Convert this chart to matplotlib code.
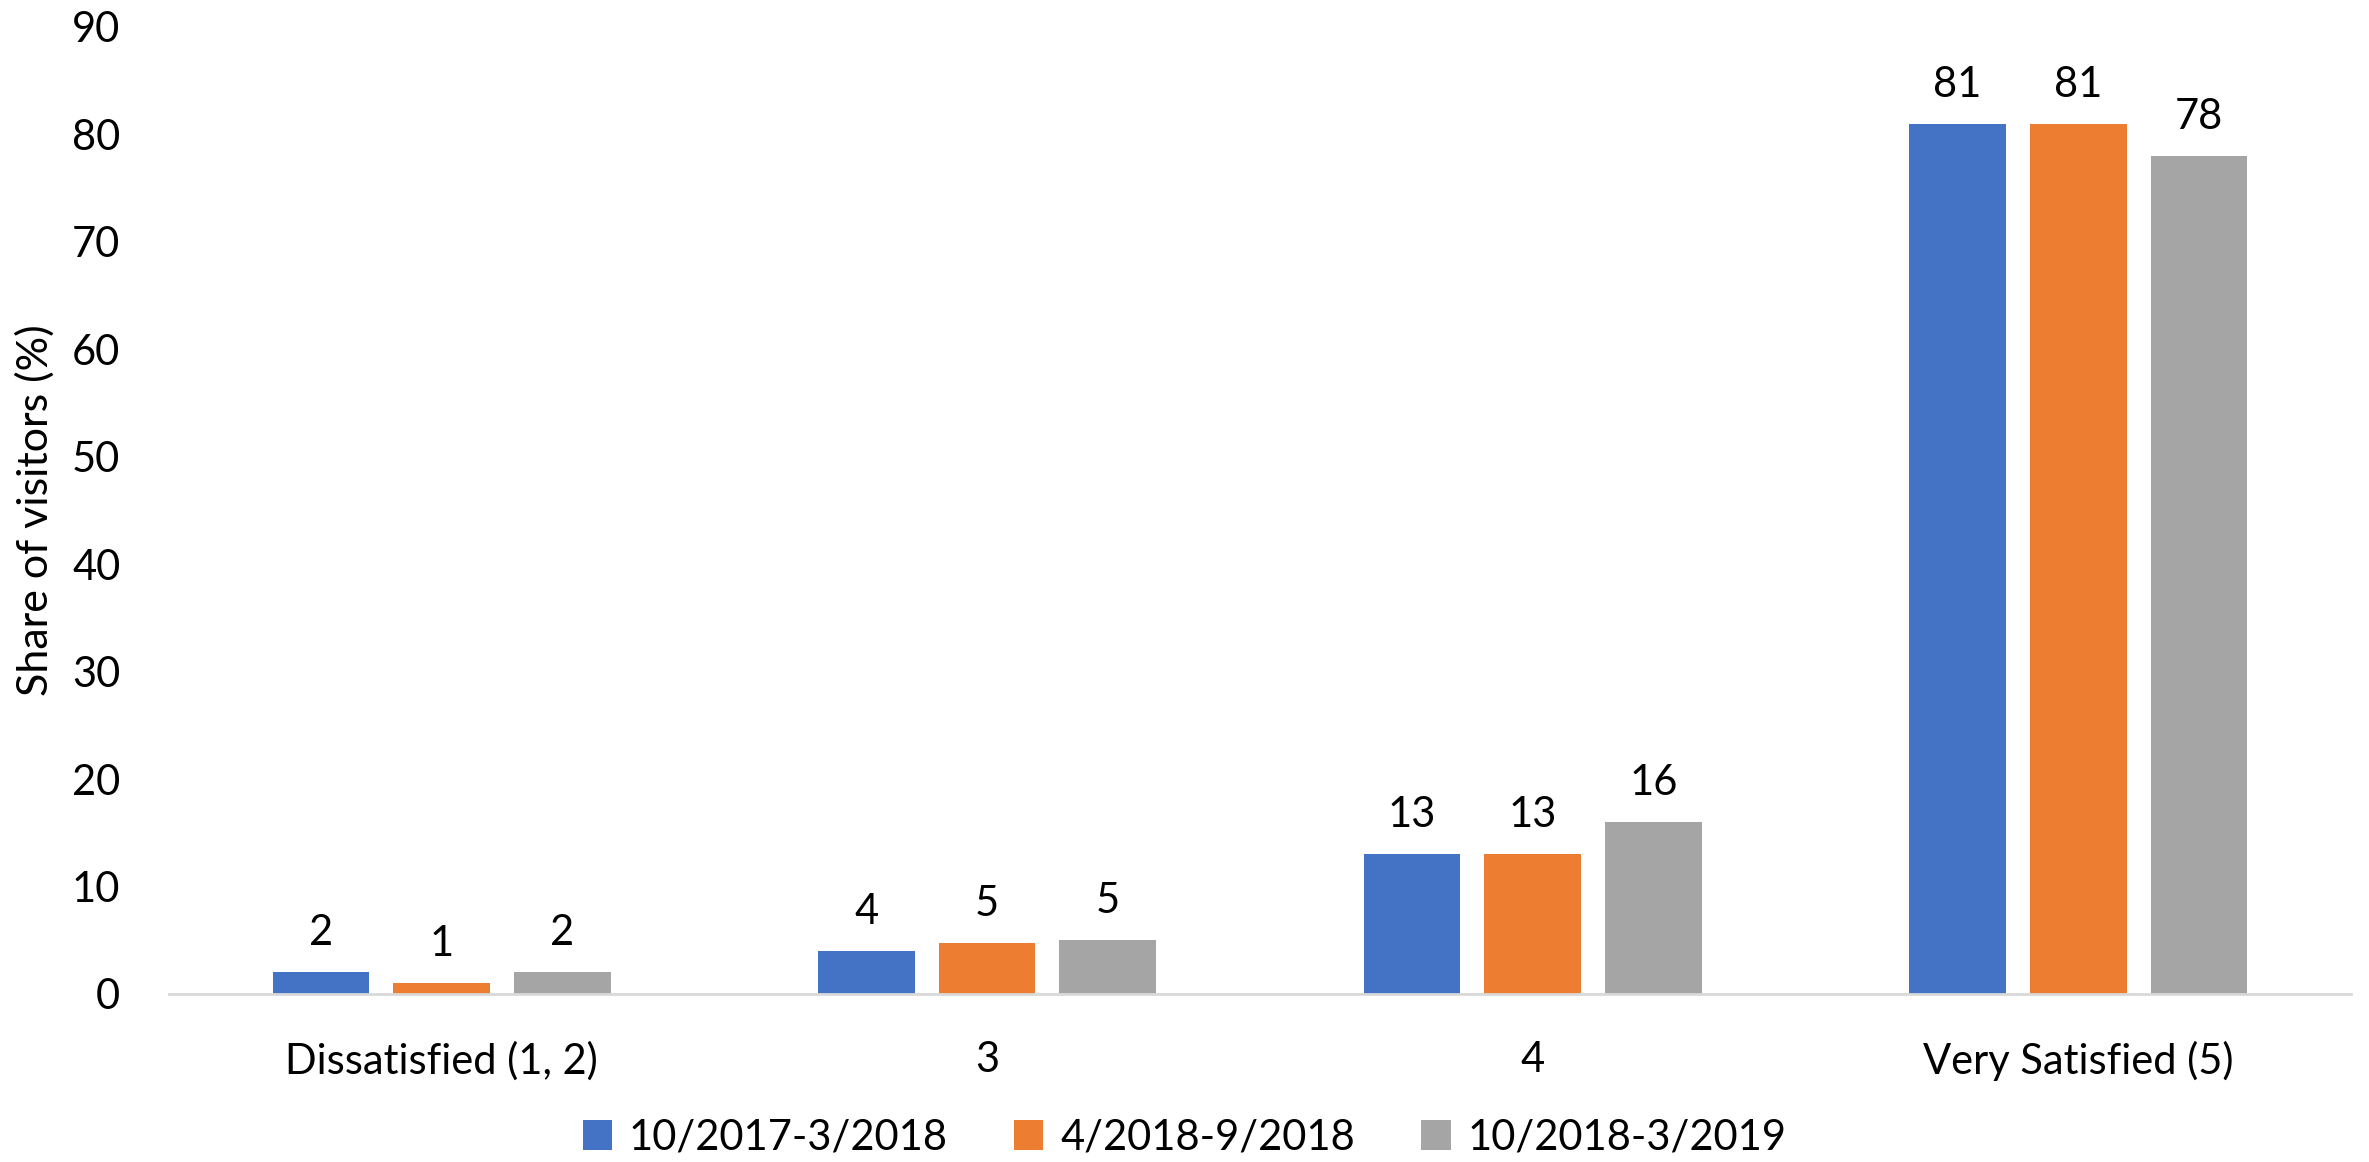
import matplotlib
matplotlib.use("Agg")
import matplotlib.pyplot as plt
import numpy as np

categories = ["Dissatisfied (1, 2)", "3", "4", "Very Satisfied (5)"]
series_names = ["10/2017-3/2018", "4/2018-9/2018", "10/2018-3/2019"]
values = [
    [2, 4, 13, 81],
    [1, 4.7, 13, 81],
    [2, 5, 16, 78],
]
labels = [
    ["2", "4", "13", "81"],
    ["1", "5", "13", "81"],
    ["2", "5", "16", "78"],
]
colors = ["#4472C4", "#ED7D31", "#A5A5A5"]

plt.rcParams['font.family'] = ['Lato', 'DejaVu Sans']

fig = plt.figure(figsize=(23.69, 11.62), dpi=100)
ax = fig.add_axes([0.0713, 0.1446, 0.9211, 0.8322])

x = np.arange(len(categories))
width = 0.177
offset = 0.221
for i, (name, vals, labs, c) in enumerate(zip(series_names, values, labels, colors)):
    pos = x + (i - 1) * offset
    bars = ax.bar(pos, vals, width, color=c, label=name, zorder=2)
    for b, lab in zip(bars, labs):
        ax.annotate(lab, (b.get_x() + b.get_width() / 2, b.get_height()),
                    xytext=(0, 20), textcoords="offset pixels",
                    ha="center", va="bottom", fontsize=30)

ax.set_xlim(-0.5, 3.5)
ax.set_ylim(0, 90)
ax.set_yticks(range(0, 91, 10))
ax.set_xticks(x)
ax.set_xticklabels(categories)
ax.tick_params(axis="both", length=0, labelsize=30)
ax.tick_params(axis="x", pad=34)
ax.tick_params(axis="y", pad=35)
for s in ["top", "right", "left"]:
    ax.spines[s].set_visible(False)
ax.spines["bottom"].set_color("#D9D9D9")
ax.spines["bottom"].set_linewidth(2)
ax.set_ylabel("Share of visitors (%)", fontsize=31, va="center")
ax.yaxis.set_label_coords(-0.0614, 0.5)

fig.legend(loc="center", bbox_to_anchor=(0.5, 0.021), ncol=3, frameon=False,
           fontsize=30, handlelength=0.7, handleheight=0.7, columnspacing=1.6,
           handletextpad=0.4)

fig.savefig("out.png", dpi=100)
